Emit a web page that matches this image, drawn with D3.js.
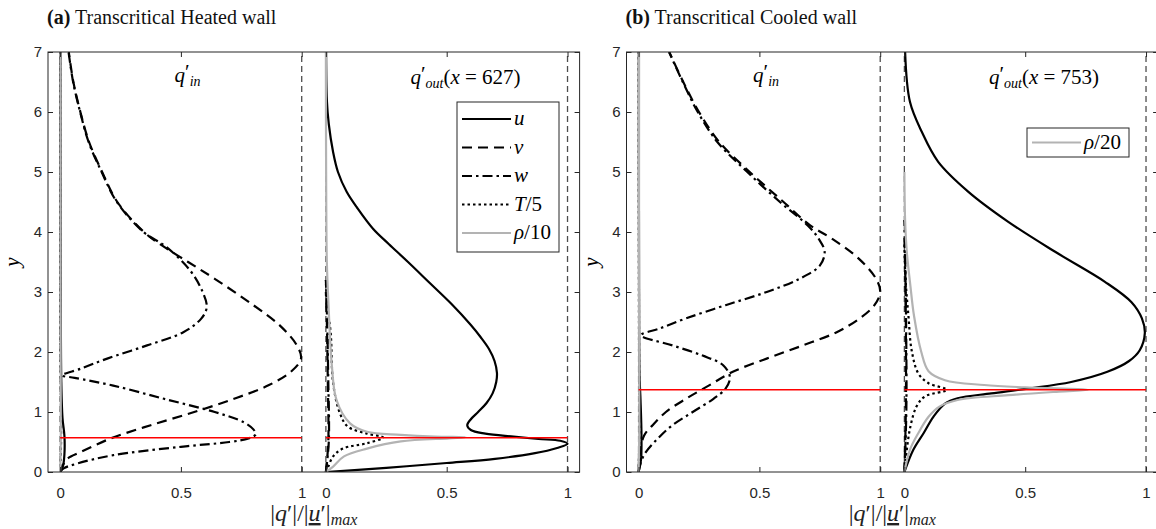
<!DOCTYPE html>
<html>
<head>
<meta charset="utf-8">
<script src="https://cdn.jsdelivr.net/npm/d3@7"></script>
<style>
  body { margin: 0; background: #fff; }
  svg { display: block; }
</style>
</head>
<body>
<div id="plot"></div>
<script>
// ---- data: [|q'|/|u'|max, y] ----
// (a) heated wall, inlet profiles
const aInU = [[0,0],[0.012,0.1],[0.018,0.3],[0.018,0.6],[0.01,0.9],[0.005,1.5],[0.003,3],[0.002,7]];
const aInV = [[0,0],[0.01,0.1],[0.03,0.22],[0.084,0.33],[0.21,0.56],[0.375,0.78],[0.555,1.0],[0.72,1.22],[0.86,1.44],[0.955,1.67],[0.997,1.89],[0.98,2.11],[0.91,2.44],[0.8,2.78],[0.64,3.22],[0.53,3.5],[0.42,3.78],[0.347,4.0],[0.237,4.5],[0.174,5.0],[0.12,5.5],[0.084,6.0],[0.055,6.5],[0.036,7.0]];
const aInW = [[0,0],[0.015,0.06],[0.07,0.14],[0.22,0.28],[0.5,0.42],[0.7,0.5],[0.78,0.56],[0.81,0.63],[0.8,0.71],[0.76,0.83],[0.64,1.0],[0.43,1.22],[0.22,1.44],[0.06,1.57],[0.008,1.61],[0.084,1.72],[0.195,1.89],[0.36,2.11],[0.51,2.33],[0.585,2.56],[0.607,2.75],[0.59,3.0],[0.54,3.35],[0.44,3.75],[0.345,4.0],[0.235,4.5],[0.172,5.0],[0.118,5.5],[0.083,6.0],[0.054,6.5],[0.035,7.0]];
const aInT = [[0,0],[0.004,0.5],[0.002,2],[0.001,7]];
const aInR = [[0,0],[0.003,0.5],[0.002,3],[0.002,7]];
// (a) heated wall, outlet profiles (x = 627)
const aOutU = [[0,0],[0.25,0.07],[0.5,0.15],[0.7,0.22],[0.86,0.31],[0.957,0.40],[1.0,0.47],[0.97,0.52],[0.88,0.55],[0.777,0.59],[0.66,0.64],[0.6,0.7],[0.585,0.78],[0.6,0.88],[0.63,1.0],[0.665,1.15],[0.69,1.31],[0.705,1.5],[0.708,1.65],[0.698,1.85],[0.675,2.05],[0.64,2.25],[0.6,2.45],[0.52,2.8],[0.43,3.15],[0.34,3.5],[0.26,3.8],[0.196,4.05],[0.13,4.4],[0.086,4.67],[0.05,5.0],[0.03,5.33],[0.012,5.8],[0.004,6.2],[0.001,7]];
const aOutV = [[0,0],[0.01,0.5],[0.008,1.5],[0.004,2.5],[0,3]];
const aOutW = [[0,0],[0.012,0.5],[0.01,1.5],[0.004,2.7],[0,3.2]];
const aOutT = [[0,0],[0.01,0.09],[0.03,0.26],[0.07,0.39],[0.17,0.48],[0.237,0.575],[0.17,0.64],[0.09,0.76],[0.058,0.98],[0.03,1.48],[0.02,2.31],[0.005,2.8],[0,3.2]];
const aOutR = [[0,0],[0.03,0.09],[0.075,0.26],[0.17,0.39],[0.31,0.51],[0.51,0.56],[0.58,0.578],[0.45,0.59],[0.31,0.62],[0.17,0.67],[0.1,0.81],[0.044,1.2],[0.025,1.76],[0.01,2.87],[0.004,3.5],[0.001,5],[0,7]];
const aRedY = 0.57;

// (b) cooled wall, inlet profiles
const bInU = [[0,0],[0.01,0.2],[0.012,0.6],[0.008,1.2],[0.004,1.6],[0.002,3],[0.001,7]];
const bInV = [[0,0],[0.005,0.3],[0.023,0.61],[0.058,0.78],[0.113,1.0],[0.196,1.22],[0.29,1.44],[0.39,1.67],[0.53,1.89],[0.68,2.11],[0.82,2.33],[0.915,2.56],[0.976,2.78],[1.0,3.0],[0.983,3.22],[0.91,3.56],[0.80,3.89],[0.71,4.11],[0.6,4.5],[0.46,5.0],[0.334,5.5],[0.25,6.0],[0.185,6.5],[0.127,7.0]];
const bInW = [[0,0],[0.01,0.17],[0.03,0.33],[0.08,0.56],[0.14,0.78],[0.224,1.0],[0.31,1.22],[0.36,1.39],[0.378,1.58],[0.35,1.78],[0.265,1.94],[0.14,2.11],[0.01,2.28],[0.086,2.39],[0.196,2.56],[0.36,2.78],[0.53,3.0],[0.666,3.22],[0.75,3.44],[0.77,3.67],[0.745,3.89],[0.70,4.11],[0.585,4.5],[0.45,5.0],[0.326,5.5],[0.245,6.0],[0.183,6.5],[0.126,7.0]];
const bInT = [[0,0],[0.004,0.8],[0.002,2],[0.001,7]];
const bInR = [[0,0],[0.003,0.8],[0.002,3],[0.002,7]];
// (b) cooled wall, outlet profiles (x = 753)
const bOutU = [[0,0],[0.037,0.37],[0.08,0.65],[0.12,0.92],[0.168,1.14],[0.22,1.23],[0.36,1.31],[0.51,1.39],[0.69,1.5],[0.84,1.67],[0.93,1.85],[0.974,2.03],[0.995,2.31],[0.983,2.56],[0.94,2.83],[0.83,3.17],[0.624,3.67],[0.43,4.17],[0.265,4.67],[0.14,5.17],[0.072,5.67],[0.023,6.17],[0.003,7]];
const bOutV = [[0,0],[0.006,1],[0.006,2.5],[0.003,3.5],[0,4]];
const bOutW = [[0,0],[0.008,1],[0.007,2.5],[0.003,3.6],[0,4.2]];
const bOutT = [[0,0],[0.01,0.37],[0.025,0.76],[0.05,1.09],[0.085,1.26],[0.174,1.37],[0.1,1.48],[0.058,1.64],[0.03,2.03],[0.017,2.59],[0.005,3.2],[0,3.8]];
const bOutR = [[0,0],[0.023,0.37],[0.058,0.65],[0.1,0.92],[0.145,1.09],[0.22,1.2],[0.43,1.28],[0.64,1.34],[0.76,1.37],[0.5,1.41],[0.33,1.45],[0.168,1.53],[0.1,1.68],[0.07,2.0],[0.04,2.6],[0.025,3.1],[0.01,3.67],[0.003,4.2],[0,5]];
const bRedY = 1.37;

// axes
const yTicks = [0, 1, 2, 3, 4, 5, 6, 7];
const xTicks = [0, 0.5, 1, 1.1, 1.6, 2.1];
const xTickLabels = ["0", "0.5", "1", "0", "0.5", "1"];
const outOffset = 1.1;   // outlet sub-plot is shifted right by this much

const W = 1156, H = 529;
const plotTop = 52, plotBottom = 472;
const axisColor = "#262626";
const mathFont = "'Liberation Serif', 'DejaVu Serif', serif";
const tickFont = "'Liberation Sans', Arial, sans-serif";

const styles = {
    u: { color: "#000", dash: null, width: 2.2 },
    v: { color: "#000", dash: "10,6", width: 2.2 },
    w: { color: "#000", dash: "10,4,2.5,4", width: 2.2 },
    T: { color: "#000", dash: "2.5,3", width: 2.2 },
    r: { color: "#b3b3b3", dash: null, width: 2.2 }
};

const svg = d3.select("#plot")
    .append("svg")
    .attr("width", W)
    .attr("height", H);

const panels = [
    { id: "a", left: 48, right: 579.6, tag: "(a)", title: " Transcritical Heated wall", xout: "627", red: aRedY,
      inData: { u: aInU, v: aInV, w: aInW, T: aInT, r: aInR },
      outData: { u: aOutU, v: aOutV, w: aOutW, T: aOutT, r: aOutR } },
    { id: "b", left: 626.5, right: 1158.1, tag: "(b)", title: " Transcritical Cooled wall", xout: "753", red: bRedY,
      inData: { u: bInU, v: bInV, w: bInW, T: bInT, r: bInR },
      outData: { u: bOutU, v: bOutV, w: bOutW, T: bOutT, r: bOutR } }
];

panels.forEach(p => {
    const x = d3.scaleLinear().domain([-0.05, 2.15]).range([p.left, p.right]);
    const y = d3.scaleLinear().domain([0, 7]).range([plotBottom, plotTop]);

    svg.append("clipPath").attr("id", "clip-" + p.id)
        .append("rect")
        .attr("x", p.left).attr("y", plotTop)
        .attr("width", p.right - p.left).attr("height", plotBottom - plotTop);

    const g = svg.append("g");
    const plot = g.append("g").attr("clip-path", `url(#clip-${p.id})`);

    // vertical dashed reference lines at 0 and 1 of each sub-plot
    [0, 1, outOffset, outOffset + 1].forEach(v => {
        plot.append("line")
            .attr("x1", x(v)).attr("x2", x(v))
            .attr("y1", y(0)).attr("y2", y(7))
            .attr("stroke", "#4d4d4d")
            .attr("stroke-width", 1.3)
            .attr("stroke-dasharray", "6,4");
    });

    const drawSet = (data, off) => {
        ["u", "v", "w", "T", "r"].forEach(k => {
            const line = d3.line()
                .x(d => x(d[0] + off))
                .y(d => y(d[1]))
                .curve(d3.curveCatmullRom.alpha(0.5));
            plot.append("path")
                .datum(data[k])
                .attr("d", line)
                .attr("fill", "none")
                .attr("stroke", styles[k].color)
                .attr("stroke-width", styles[k].width)
                .attr("stroke-dasharray", styles[k].dash)
                .attr("stroke-linejoin", "round");
        });
    };
    drawSet(p.inData, 0);
    drawSet(p.outData, outOffset);

    // red reference line in both sub-plots
    [[0, 1], [outOffset, outOffset + 1]].forEach(([a, b]) => {
        plot.append("line")
            .attr("x1", x(a)).attr("x2", x(b))
            .attr("y1", y(p.red)).attr("y2", y(p.red))
            .attr("stroke", "#ff0000")
            .attr("stroke-width", 1.6);
    });

    // box + inward ticks
    g.append("rect")
        .attr("x", p.left).attr("y", plotTop)
        .attr("width", p.right - p.left).attr("height", plotBottom - plotTop)
        .attr("fill", "none").attr("stroke", axisColor).attr("stroke-width", 1);

    g.append("g")
        .attr("transform", `translate(0,${plotBottom})`)
        .call(d3.axisBottom(x).tickValues(xTicks)
            .tickFormat((d, i) => xTickLabels[i])
            .tickSizeInner(-5).tickSizeOuter(0).tickPadding(15));
    g.append("g")
        .attr("transform", `translate(0,${plotTop})`)
        .call(d3.axisTop(x).tickValues(xTicks).tickFormat("")
            .tickSizeInner(-5).tickSizeOuter(0));
    g.append("g")
        .attr("transform", `translate(${p.left},0)`)
        .call(d3.axisLeft(y).tickValues(yTicks).tickFormat(d3.format("d"))
            .tickSizeInner(-5).tickSizeOuter(0).tickPadding(6));
    g.append("g")
        .attr("transform", `translate(${p.right},0)`)
        .call(d3.axisRight(y).tickValues(yTicks).tickFormat("")
            .tickSizeInner(-5).tickSizeOuter(0));

    g.selectAll(".domain").remove();
    g.selectAll(".tick line").attr("stroke", axisColor);
    g.selectAll(".tick text")
        .attr("fill", axisColor)
        .style("font-family", tickFont)
        .style("font-size", "15px");

    // panel title
    const t = svg.append("text")
        .attr("x", p.left - 1).attr("y", 24)
        .style("font-family", mathFont).style("font-size", "20px")
        .attr("fill", "#111");
    t.append("tspan").attr("font-weight", "bold").text(p.tag);
    t.append("tspan").text(p.title);

    // sub-plot labels
    const qin = svg.append("text")
        .attr("x", x(0.474)).attr("y", 82)
        .style("font-family", mathFont).style("font-size", "21px");
    qin.append("tspan").attr("font-style", "italic").text("q");
    qin.append("tspan").attr("dy", -3).text("′");
    qin.append("tspan").attr("font-style", "italic").attr("font-size", "14px")
        .attr("dy", 7).text("in");

    const qout = svg.append("text")
        .attr("x", x(outOffset + 0.35)).attr("y", 84)
        .style("font-family", mathFont).style("font-size", "21px");
    qout.append("tspan").attr("font-style", "italic").text("q");
    qout.append("tspan").attr("dy", -3).text("′");
    qout.append("tspan").attr("font-style", "italic").attr("font-size", "14px")
        .attr("dy", 7).text("out");
    qout.append("tspan").attr("dy", -4).text("(");
    qout.append("tspan").attr("font-style", "italic").text("x");
    qout.append("tspan").text(" = " + p.xout + ")");

    // axis labels
    svg.append("text")
        .attr("transform", `translate(${p.left - 29},${(plotTop + plotBottom) / 2}) rotate(-90)`)
        .attr("text-anchor", "middle")
        .style("font-family", mathFont).style("font-size", "21px")
        .attr("font-style", "italic")
        .text("y");

    const xl = svg.append("text")
        .attr("x", x(1.05)).attr("y", 521)
        .attr("text-anchor", "middle")
        .style("font-family", mathFont).style("font-size", "24px")
        .attr("fill", "#222");
    xl.append("tspan").text("|");
    xl.append("tspan").attr("font-style", "italic").text("q");
    xl.append("tspan").text("′|/|");
    xl.append("tspan").attr("font-style", "italic").style("text-decoration", "underline").text("u");
    xl.append("tspan").text("′|");
    xl.append("tspan").attr("font-style", "italic").attr("font-size", "16px").attr("dy", 4).text("max");
});

// ---- legends ----
const legendA = [
    { k: "u", label: [["u", true]] },
    { k: "v", label: [["v", true]] },
    { k: "w", label: [["w", true]] },
    { k: "T", label: [["T", true], ["/5", false]] },
    { k: "r", label: [["ρ", true], ["/10", false]] }
];
const legendB = [
    { k: "r", label: [["ρ", true], ["/20", false]] }
];

function drawLegend(items, bx, by, bw, bh, rowY0, rowGap) {
    const lg = svg.append("g");
    lg.append("rect")
        .attr("x", bx).attr("y", by).attr("width", bw).attr("height", bh)
        .attr("fill", "#fff").attr("stroke", axisColor).attr("stroke-width", 1);
    items.forEach((it, i) => {
        const yy = rowY0 + i * rowGap;
        lg.append("line")
            .attr("x1", bx + 5).attr("x2", bx + 54)
            .attr("y1", yy).attr("y2", yy)
            .attr("stroke", styles[it.k].color)
            .attr("stroke-width", styles[it.k].width)
            .attr("stroke-dasharray", styles[it.k].dash);
        const tx = lg.append("text")
            .attr("x", bx + 57).attr("y", yy + 6)
            .style("font-family", mathFont).style("font-size", "21px");
        it.label.forEach(([s, ital]) => {
            tx.append("tspan").attr("font-style", ital ? "italic" : "normal").text(s);
        });
    });
}
drawLegend(legendA, 457, 102, 102, 150, 119, 28.5);
drawLegend(legendB, 1027, 128, 102, 29, 142.5, 0);
</script>
</body>
</html>
